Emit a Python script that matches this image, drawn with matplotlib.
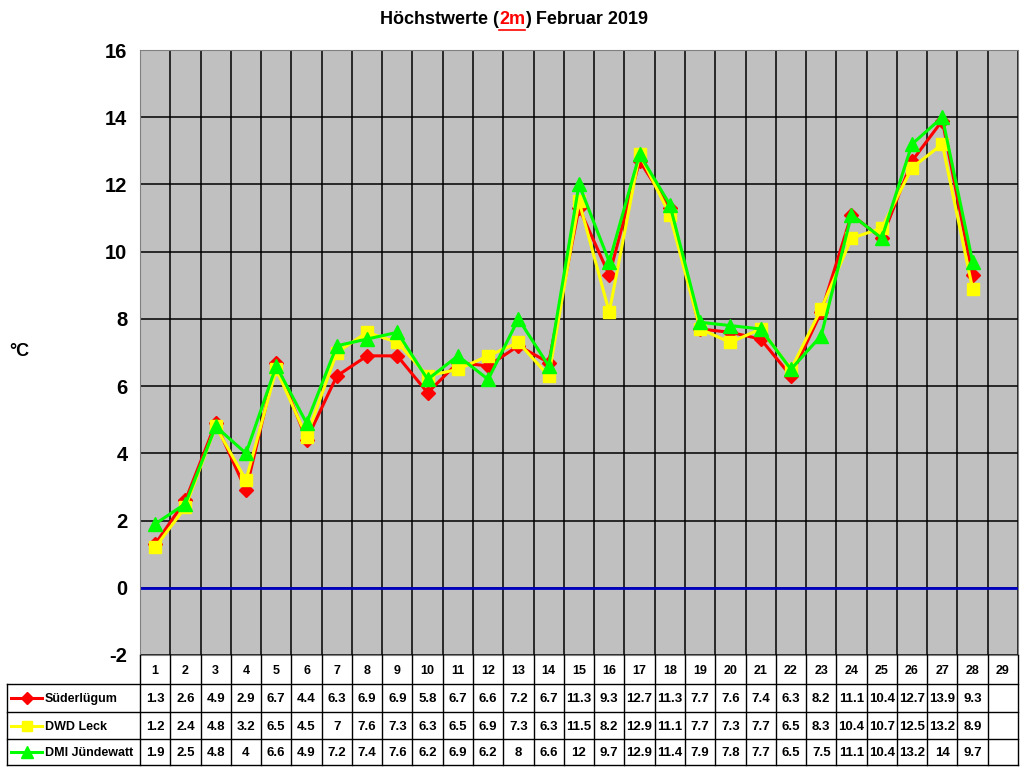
import matplotlib
matplotlib.use('Agg')
import matplotlib.pyplot as plt
import numpy as np

days = list(range(1, 30))
suederluegum = [1.3, 2.6, 4.9, 2.9, 6.7, 4.4, 6.3, 6.9, 6.9, 5.8, 6.7, 6.6, 7.2, 6.7,
                11.3, 9.3, 12.7, 11.3, 7.7, 7.6, 7.4, 6.3, 8.2, 11.1, 10.4, 12.7, 13.9, 9.3]
dwd_leck = [1.2, 2.4, 4.8, 3.2, 6.5, 4.5, 7, 7.6, 7.3, 6.3, 6.5, 6.9, 7.3, 6.3,
            11.5, 8.2, 12.9, 11.1, 7.7, 7.3, 7.7, 6.5, 8.3, 10.4, 10.7, 12.5, 13.2, 8.9]
dmi_juendewatt = [1.9, 2.5, 4.8, 4, 6.6, 4.9, 7.2, 7.4, 7.6, 6.2, 6.9, 6.2, 8, 6.6,
                  12, 9.7, 12.9, 11.4, 7.9, 7.8, 7.7, 6.5, 7.5, 11.1, 10.4, 13.2, 14, 9.7]

series = [
    ('Süderlügum', suederluegum, '#FF0000', 'D', 7),
    ('DWD Leck', dwd_leck, '#FFFF00', 's', 8.5),
    ('DMI Jündewatt', dmi_juendewatt, '#00FF00', '^', 9.5),
]

plt.rcParams['font.family'] = ['Liberation Sans', 'DejaVu Sans']
plt.rcParams['font.weight'] = 'bold'
plt.rcParams['axes.unicode_minus'] = False

W, H = 1024, 768
fig = plt.figure(figsize=(W / 100, H / 100), dpi=100)

x0, x1, y_top, y_bot = 140, 1018, 50, 655
ax = fig.add_axes([x0 / W, 1 - y_bot / H, (x1 - x0) / W, (y_bot - y_top) / H])
ax.set_facecolor('#C0C0C0')
ax.set_xlim(0.5, len(days) + 0.5)
ax.set_ylim(-2, 16)
ax.set_yticks(range(-2, 17, 2))
ax.set_xticks([])
ax.tick_params(axis='y', labelsize=14.5, length=0, pad=9)
for lab in ax.get_yticklabels():
    lab.set_fontweight('bold')
for y in range(-2, 17, 2):
    ax.axhline(y, color='black', lw=1.1, zorder=1)
for i in range(len(days) + 1):
    ax.axvline(0.5 + i, color='black', lw=1.1, zorder=1)
ax.axhline(0, color='#0000C0', lw=2, zorder=2)
for s in ax.spines.values():
    s.set_color('#808080')

for name, vals, col, mk, ms in series:
    ax.plot(days[:len(vals)], vals, color=col, lw=2.2, marker=mk, ms=ms,
            markeredgecolor=col, zorder=3)

fig.text(9 / W, 1 - 352 / H, '°C', fontsize=13, fontweight='bold', va='center', ha='left')

# title in three pieces, laid out with the renderer
renderer = fig.canvas.get_renderer()
parts = [('Höchstwerte (', 'black'), ('2m', 'red'), (') Februar 2019', 'black')]
texts = []
for s, c in parts:
    texts.append(fig.text(0, 1 - 20 / H, s, fontsize=13, fontweight='bold', va='center',
                          ha='left', color=c))
widths = [t.get_window_extent(renderer).width for t in texts]
xs = 514 - sum(widths) / 2
for t, w in zip(texts, widths):
    t.set_x(xs / W)
    if t.get_text() == '2m':
        fig.add_artist(plt.Line2D([xs / W, (xs + w) / W], [1 - 30 / H, 1 - 30 / H],
                                  color='red', lw=1.2, transform=fig.transFigure))
    xs += w

# table below the chart, in pixel coordinates
tab = fig.add_axes([0, 0, 1, 1])
tab.set_xlim(0, W)
tab.set_ylim(H, 0)
tab.axis('off')
tab.patch.set_alpha(0)
cw = (x1 - x0) / len(days)
rows = [655, 684, 712, 739, 765]
lx = 7
tab.plot([lx, x1], [rows[1], rows[1]], color='black', lw=1)
for i in range(len(days) + 1):
    tab.plot([x0 + i * cw] * 2, [rows[0], rows[-1]], color='black', lw=1)
tab.plot([lx, lx], [rows[1], rows[-1]], color='black', lw=1)
for r in rows[2:]:
    tab.plot([lx, x1], [r, r], color='black', lw=1)
for i, d in enumerate(days):
    tab.text(x0 + (i + 0.5) * cw, (rows[0] + rows[1]) / 2 + 1, str(d), ha='center', va='center',
             fontsize=9, fontweight='bold')
for j, (name, vals, col, mk, ms) in enumerate(series):
    yc = (rows[j + 1] + rows[j + 2]) / 2
    tab.plot([11, 42], [yc, yc], color=col, lw=2.2)
    tab.plot([27], [yc], color=col, marker=mk, ms=ms * 0.85)
    tab.text(45, yc + 1, name, ha='left', va='center', fontsize=9, fontweight='bold')
    for i, v in enumerate(vals):
        tab.text(x0 + (i + 0.5) * cw, yc + 1, f'{v:g}', ha='center', va='center',
                 fontsize=9.5, fontweight='bold')

fig.savefig('out.png', dpi=100)
